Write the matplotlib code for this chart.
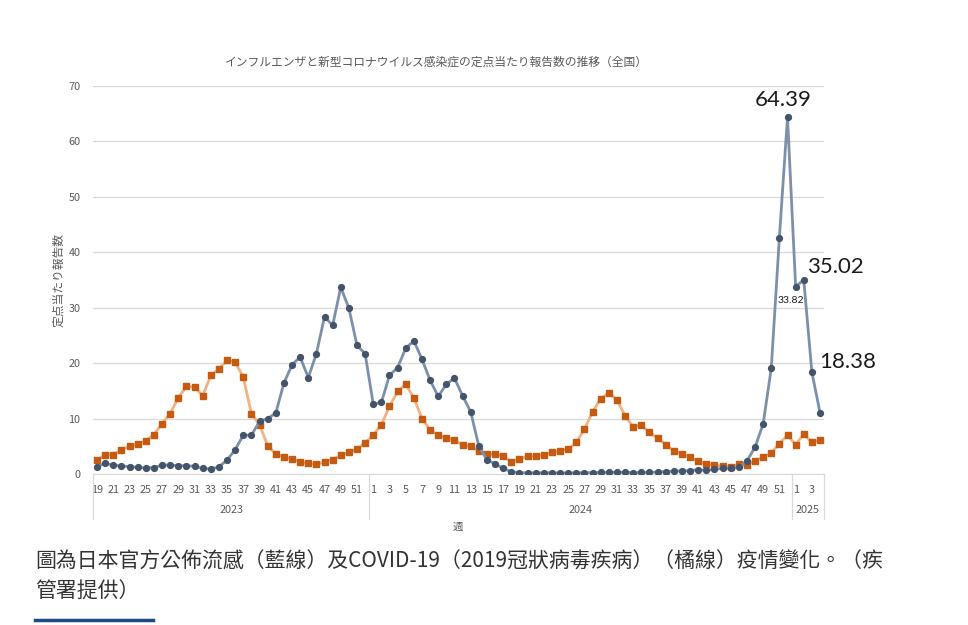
import matplotlib
matplotlib.use("Agg")
import matplotlib.pyplot as plt
from matplotlib.lines import Line2D
import matplotlib.transforms as mtransforms

plt.rcParams["font.family"] = ["Noto Sans CJK JP", "DejaVu Sans"]

TITLE = "インフルエンザと新型コロナウイルス感染症の定点当たり報告数の推移（全国）"
Y_LABEL = "定点当たり報告数"
X_LABEL = "週"
CAPTION_1 = "圖為日本官方公佈流感（藍線）及COVID-19（2019冠狀病毒疾病）（橘線）疫情變化。（疾"
CAPTION_2 = "管署提供）"

YEARS = ["2023", "2024", "2025"]
WEEKS_2023 = list(range(19, 53))
WEEKS_2024 = list(range(1, 53))
WEEKS_2025 = list(range(1, 5))

FLU_2023 = [1.33, 1.9, 1.6, 1.45, 1.33, 1.2, 1.1, 1.15, 1.6, 1.6, 1.5, 1.5, 1.4, 1.0,
            0.9, 1.3, 2.5, 4.4, 7.0, 7.0, 9.5, 10.0, 11.0, 16.4, 19.7, 21.1, 17.4, 21.7,
            28.4, 26.8, 33.7, 29.9, 23.2, 21.7]
FLU_2024 = [12.6, 12.9, 17.8, 19.2, 22.7, 24.0, 20.7, 16.9, 14.0, 16.2, 17.3, 14.1, 11.2,
            5.0, 2.6, 1.8, 1.0, 0.4, 0.25, 0.2, 0.2, 0.2, 0.2, 0.18, 0.18, 0.2, 0.22,
            0.25, 0.28, 0.3, 0.3, 0.3, 0.25, 0.28, 0.3, 0.35, 0.45, 0.5, 0.55, 0.6, 0.8,
            0.65, 0.85, 1.0, 1.05, 1.2, 2.36, 4.82, 9.03, 19.06, 42.66, 64.39]
FLU_2025 = [33.82, 35.02, 18.38, 11.06]

COVID_2023 = [2.5, 3.5, 3.5, 4.4, 5.0, 5.4, 6.0, 7.1, 9.1, 10.9, 13.8, 15.8, 15.7, 14.1,
              17.8, 19.0, 20.5, 20.2, 17.5, 10.9, 8.9, 5.1, 3.6, 3.1, 2.7, 2.2, 1.9, 1.75,
              2.2, 2.6, 3.4, 3.9, 4.5, 5.6]
COVID_2024 = [7.0, 8.9, 12.2, 14.9, 16.2, 13.7, 10.0, 7.9, 7.0, 6.5, 6.1, 5.2, 5.0, 4.2,
              3.6, 3.6, 3.2, 2.2, 2.7, 3.2, 3.3, 3.4, 3.9, 4.2, 4.5, 5.7, 8.1, 11.2, 13.6,
              14.6, 13.4, 10.5, 8.5, 8.8, 7.5, 6.5, 5.3, 4.2, 3.6, 3.0, 2.3, 1.8, 1.6, 1.4,
              1.2, 1.8, 1.7, 2.4, 3.0, 3.8, 5.5, 7.0]
COVID_2025 = [5.3, 7.2, 5.7, 6.1]

# values called out on the chart: (index into the full series, text, offset px, ha, size)
CALLOUTS = [
    (85, "64.39", (-4, 17), "center", 16),
    (86, "33.82", (-5, -14), "center", 7.5),
    (87, "35.02", (3, 13), "left", 16),
    (88, "18.38", (7, 10), "left", 16),
]

GREY = "#595959"
GRID = "#d9d9d9"
FLU_LINE = "#7d90aa"
FLU_MARK = "#44546a"
COVID_LINE = "#f4b183"
COVID_MARK = "#c55a11"


def main():
    weeks = WEEKS_2023 + WEEKS_2024 + WEEKS_2025
    flu = FLU_2023 + FLU_2024 + FLU_2025
    covid = COVID_2023 + COVID_2024 + COVID_2025
    x = list(range(len(weeks)))

    fig = plt.figure(figsize=(9.68, 6.25), dpi=100)
    ax = fig.add_axes([0.0961, 0.2416, 0.7552, 0.6208])

    ax.plot(x, covid, color=COVID_LINE, lw=2.0, marker="s", ms=4.6,
            mfc=COVID_MARK, mec=COVID_MARK, zorder=3)
    ax.plot(x, flu, color=FLU_LINE, lw=2.0, marker="o", ms=4.2,
            mfc=FLU_MARK, mec=FLU_MARK, zorder=4)

    ax.set_xlim(-0.5, len(weeks) - 0.5)
    ax.set_ylim(0, 70)
    ax.set_yticks(range(0, 71, 10))
    ax.grid(axis="y", color=GRID, lw=0.9)
    ax.set_axisbelow(True)
    for side in ["top", "right", "left"]:
        ax.spines[side].set_visible(False)
    ax.spines["bottom"].set_color(GRID)
    ax.tick_params(axis="y", length=0, labelsize=7.8, labelcolor=GREY, pad=9)

    # every other week labelled, restarting per year
    labels = []
    year_sizes = [len(WEEKS_2023), len(WEEKS_2024), len(WEEKS_2025)]
    for wk in [WEEKS_2023, WEEKS_2024, WEEKS_2025]:
        labels += [str(w) if j % 2 == 0 else "" for j, w in enumerate(wk)]
    ax.set_xticks(x)
    ax.set_xticklabels(labels)
    ax.tick_params(axis="x", length=0, labelsize=7.8, labelcolor=GREY, pad=8)

    # year grouping below the week labels
    trans = mtransforms.blended_transform_factory(ax.transData, ax.transAxes)
    start = 0
    bounds = [-0.5]
    for year, size in zip(YEARS, year_sizes):
        end = start + size
        bounds.append(end - 0.5)
        ax.text((start + end - 1) / 2, -0.093, year, transform=trans, ha="center",
                va="center", fontsize=7.8, color=GREY)
        start = end
    for b in bounds:
        ax.add_line(Line2D([b, b], [0, -0.115], transform=trans, color=GRID,
                           lw=0.9, clip_on=False))

    ax.set_ylabel(Y_LABEL, fontsize=8.5, color=GREY, labelpad=2)
    fig.text(458 / 968, 1 - 527 / 625, X_LABEL, fontsize=7.5, color=GREY,
             ha="center", va="center")
    fig.text(436 / 968, 1 - 62 / 625, TITLE, fontsize=8.5, color=GREY,
             ha="center", va="center")

    for idx, txt, off, ha, size in CALLOUTS:
        ax.annotate(txt, (idx, flu[idx]), xytext=off, textcoords="offset pixels",
                    ha=ha, va="center", fontsize=size, color="#1a1a1a",
                    family=["Lato", "DejaVu Sans"])

    cap_font = ["Noto Sans CJK TC", "DejaVu Sans"]
    fig.text(35 / 968, 1 - 562 / 625, CAPTION_1, fontsize=15, color="#333333",
             ha="left", va="center", family=cap_font)
    fig.text(35 / 968, 1 - 592 / 625, CAPTION_2, fontsize=15, color="#333333",
             ha="left", va="center", family=cap_font)
    fig.add_artist(Line2D([35 / 968, 153 / 968], [1 - 620 / 625, 1 - 620 / 625],
                          transform=fig.transFigure, color="#1f4a87", lw=2.5))

    fig.savefig("out.png", dpi=100)
    plt.close(fig)


if __name__ == "__main__":
    main()
